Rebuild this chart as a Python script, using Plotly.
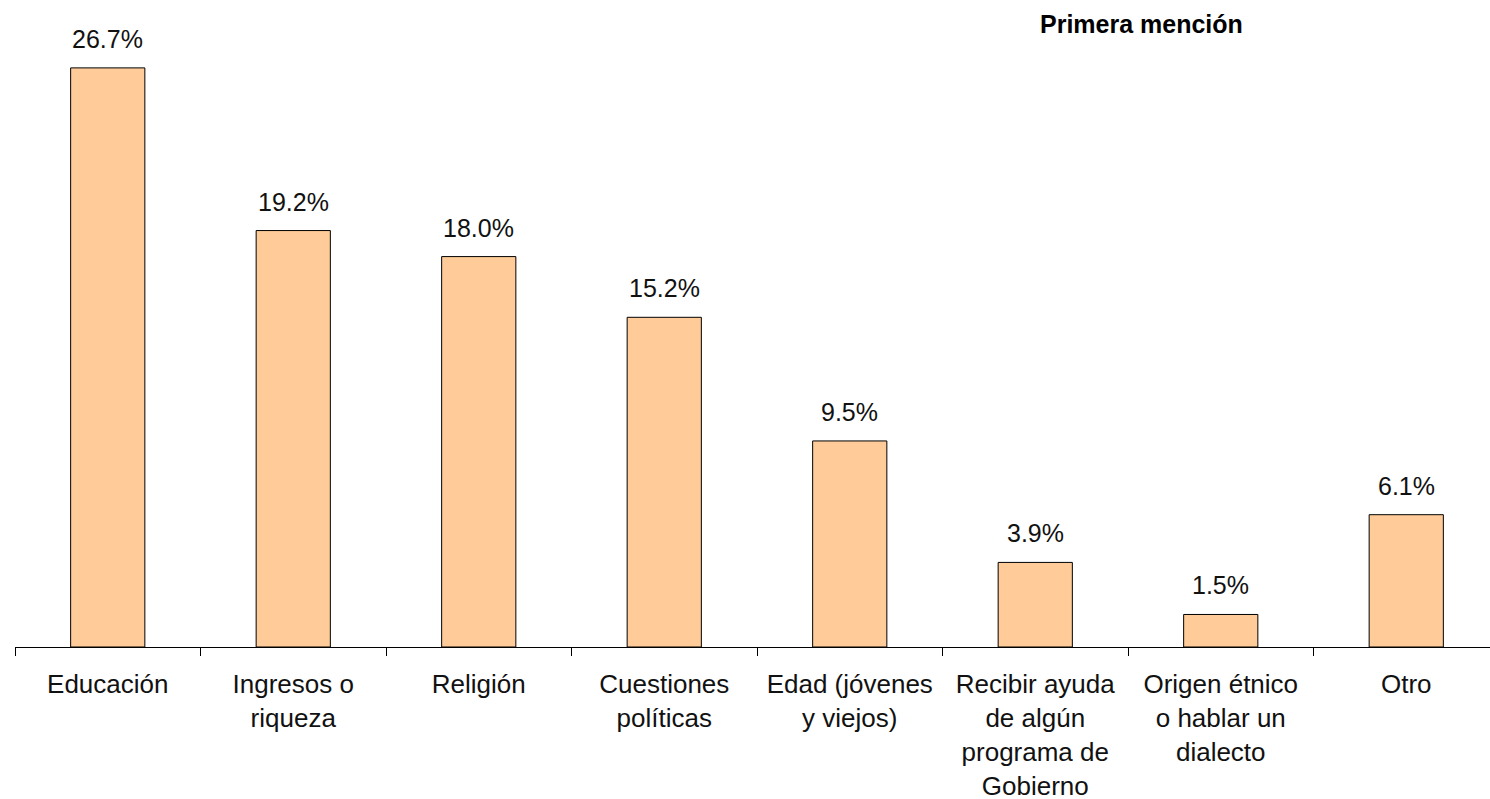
import plotly.graph_objects as go

categories = ["Educación", "Ingresos o<br>riqueza", "Religión", "Cuestiones<br>políticas",
              "Edad (jóvenes<br>y viejos)", "Recibir ayuda<br>de algún<br>programa de<br>Gobierno",
              "Origen étnico<br>o hablar un<br>dialecto", "Otro"]
values = [26.7, 19.2, 18.0, 15.2, 9.5, 3.9, 1.5, 6.1]
value_labels = ["26.7%", "19.2%", "18.0%", "15.2%", "9.5%", "3.9%", "1.5%", "6.1%"]
title_text = "Primera mención"

FONT = "Liberation Sans, Arial, sans-serif"

fig = go.Figure()
fig.add_trace(go.Bar(
    x=categories, y=values, width=0.4,
    marker=dict(color="#FFCC99", line=dict(color="#000000", width=1)),
    hoverinfo="skip",
))

for cat, v, t in zip(categories, values, value_labels):
    fig.add_annotation(x=cat, y=v, text=t, showarrow=False, yanchor="bottom",
                       yshift=13, font=dict(family=FONT, size=25, color="#111111"))

fig.add_annotation(xref="paper", yref="paper", x=(1141 - 15) / 1475, y=1, yshift=-24,
                   text="<b>" + title_text + "</b>", showarrow=False,
                   xanchor="center", yanchor="middle",
                   font=dict(family=FONT, size=25, color="#000000"))

fig.update_layout(
    width=1490, height=799,
    margin=dict(l=15, r=0, t=0, b=152),
    plot_bgcolor="white", paper_bgcolor="white",
    showlegend=False,
    font=dict(family=FONT, size=25, color="#111111"),
)
fig.update_xaxes(
    type="category", automargin=False,
    range=[-0.5, -0.5 + 1475 / 185.5],
    showline=True, linecolor="#000000", linewidth=1,
    ticks="outside", tickson="boundaries", ticklen=8, tickcolor="#000000", tickwidth=1,
    showgrid=False, zeroline=False,
    tickfont=dict(family=FONT, size=26, color="#111111"),
    tickangle=0, ticklabelstandoff=14,
)
fig.update_yaxes(range=[0, 647 / 21.69], visible=False, showgrid=False, zeroline=False,
                 automargin=False)

fig.write_html("out.html", config={"displayModeBar": False},
               post_script="document.body.style.margin='0';")
